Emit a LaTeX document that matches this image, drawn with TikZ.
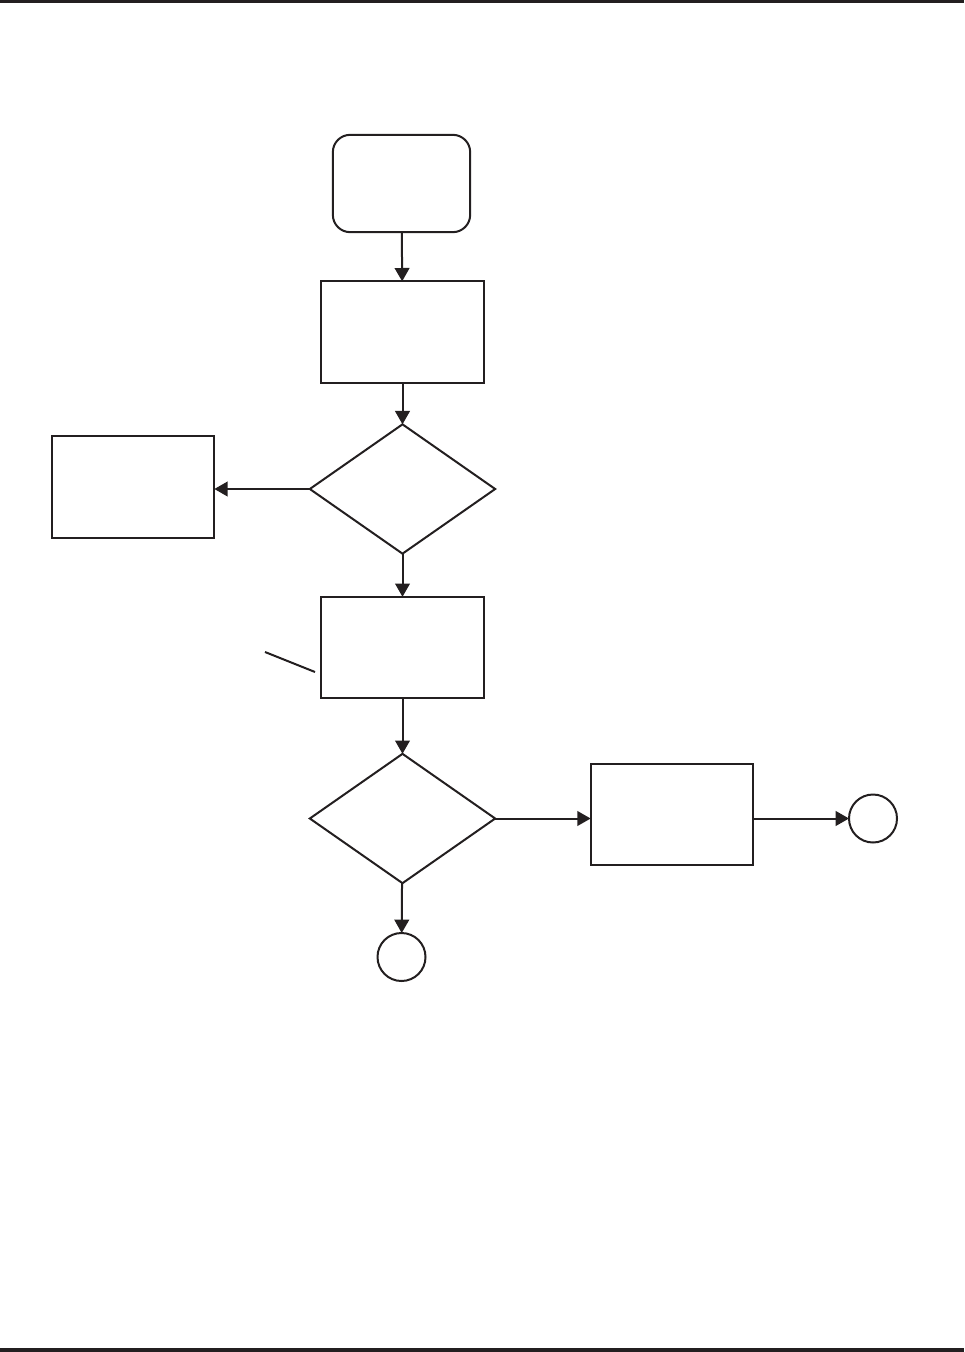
\documentclass[tikz,border=0pt]{standalone}
\usepackage{tikz}
\usetikzlibrary{arrows.meta,shapes.geometric}
\definecolor{FlowInk}{RGB}{35,31,32}

\begin{document}
\begin{tikzpicture}[x=0.75pt,y=-0.75pt,>={Triangle[length=10pt,width=11pt]},line width=1.5pt,
    procbox/.style={draw=FlowInk,minimum width=122pt,minimum height=76pt,inner sep=0pt,outer sep=0pt},
    decide/.style={draw=FlowInk,diamond,aspect=1,minimum width=139pt,minimum height=97pt,inner sep=0pt,outer sep=0pt},
    startbox/.style={draw=FlowInk,rounded corners=13pt,minimum width=103pt,minimum height=73pt,inner sep=0pt,outer sep=0pt},
    joint/.style={draw=FlowInk,circle,minimum size=36pt,inner sep=0pt,outer sep=0pt}]
      \useasboundingbox (0,0) rectangle (964,1352);
      \draw[FlowInk,line width=2pt] (0,1.5)--(964,1.5);
      \draw[FlowInk,line width=2.5pt] (0,1350)--(964,1350);
      \node[startbox] (start) at (401.5,183.5) {};
      \node[procbox] (prep) at (402.5,332) {};
      \node[decide] (test1) at (402.5,489) {};
      \node[procbox] (reject) at (133,487) {};
      \node[procbox] (work) at (402.5,647.5) {};
      \node[decide] (test2) at (402.5,818.5) {};
      \node[procbox] (extra) at (672,814.5) {};
      \node[joint] (outright) at (873,818.5) {};
      \node[joint] (outdown) at (401.5,957) {};
      \coordinate (leadA) at (265,652);
      \coordinate (leadB) at (315,672);
      \draw[->,FlowInk] (start)--(prep);
      \draw[->,FlowInk] (prep)--(test1);
      \draw[->,FlowInk] (test1.west)--(reject.east|-test1.west);
      \draw[->,FlowInk] (test1)--(work);
      \draw[->,FlowInk] (work)--(test2);
      \draw[->,FlowInk] (test2.east)--(extra.west|-test2.east);
      \draw[->,FlowInk] (extra.east|-outright)--(outright);
      \draw[->,FlowInk] (test2)--(outdown);
      \draw[FlowInk] (leadA)--(leadB);
    \end{tikzpicture}
\end{document}
